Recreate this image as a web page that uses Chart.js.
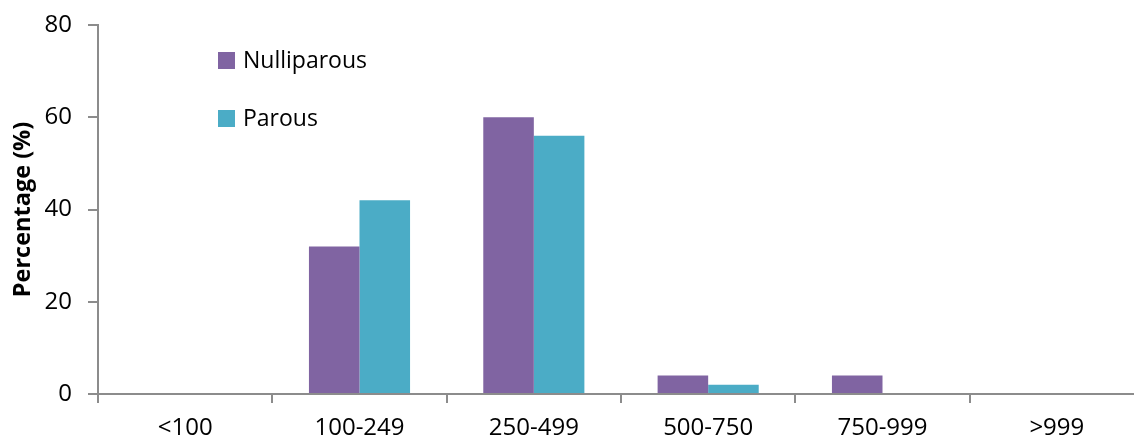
<!DOCTYPE html>
<html>
<head>
<meta charset="utf-8">
<script src="https://cdn.jsdelivr.net/npm/chart.js@4/dist/chart.umd.min.js"></script>
<style>
  html, body { margin: 0; padding: 0; background: #fff; overflow: hidden; width: 1134px; height: 441px; }
  #wrap { position: relative; width: 1146px; height: 441px; }
</style>
</head>
<body>
<div id="wrap"><canvas id="chart"></canvas></div>
<script>
// Size bands on the x axis
const categories = ['<100', '100-249', '250-499', '500-750', '750-999', '>999'];
// Percentage of women in each band
const nulliparous = [0, 32, 60, 4, 4, 0];
const parous = [0, 42, 56, 2, 0, 0];
// Y axis ticks
const yTicks = [0, 20, 40, 60, 80];

const AXIS = '#8c8c8c';
const FONT = '"Open Sans", "Noto Sans", sans-serif';

// Vertical legend drawn inside the plot area
const sideLegend = {
  id: 'sideLegend',
  afterDraw(chart) {
    const { ctx, chartArea } = chart;
    ctx.save();
    chart.data.datasets.forEach((ds, i) => {
      const x = chartArea.left + 120;
      const y = chartArea.top + 27 + i * 58;
      ctx.fillStyle = ds.backgroundColor;
      ctx.fillRect(x, y, 17, 17);
      ctx.fillStyle = '#000';
      ctx.font = '23px ' + FONT;
      ctx.textBaseline = 'middle';
      ctx.textAlign = 'left';
      ctx.fillText(ds.label, x + 25, y + 9);
    });
    ctx.restore();
  }
};

new Chart(document.getElementById('chart'), {
  type: 'bar',
  data: {
    labels: categories,
    datasets: [
      { label: 'Nulliparous', data: nulliparous, backgroundColor: '#8064A2', borderWidth: 0 },
      { label: 'Parous', data: parous, backgroundColor: '#4BACC6', borderWidth: 0 }
    ]
  },
  options: {
    responsive: true,
    maintainAspectRatio: false,
    animation: false,
    layout: { padding: { top: 25, right: 2, bottom: 0, left: 0 } },
    datasets: { bar: { categoryPercentage: 0.58, barPercentage: 1.0 } },
    plugins: { legend: { display: false }, tooltip: { enabled: false } },
    scales: {
      x: {
        grid: { offset: true, drawOnChartArea: false, drawTicks: true, tickLength: 9, color: AXIS, lineWidth: 2 },
        border: { display: true, color: AXIS, width: 2 },
        ticks: { color: '#000', font: { family: FONT, size: 24 }, padding: 11, maxRotation: 0 },
        afterFit(scale) { scale.height = 47; }
      },
      y: {
        min: yTicks[0],
        max: yTicks[yTicks.length - 1],
        afterBuildTicks(scale) { scale.ticks = yTicks.map(v => ({ value: v })); },
        grid: { drawOnChartArea: false, drawTicks: true, tickLength: 10, color: AXIS, lineWidth: 2 },
        border: { display: true, color: AXIS, width: 2 },
        ticks: { color: '#000', font: { family: FONT, size: 24, lineHeight: 0.75 }, padding: 16 },
        title: { display: true, text: 'Percentage (%)', color: '#000',
                 font: { family: FONT, size: 23.5, weight: 'bold' }, padding: { top: 9, bottom: 0 } },
        afterFit(scale) { scale.width = 98; }
      }
    }
  },
  plugins: [sideLegend]
});
</script>
</body>
</html>
